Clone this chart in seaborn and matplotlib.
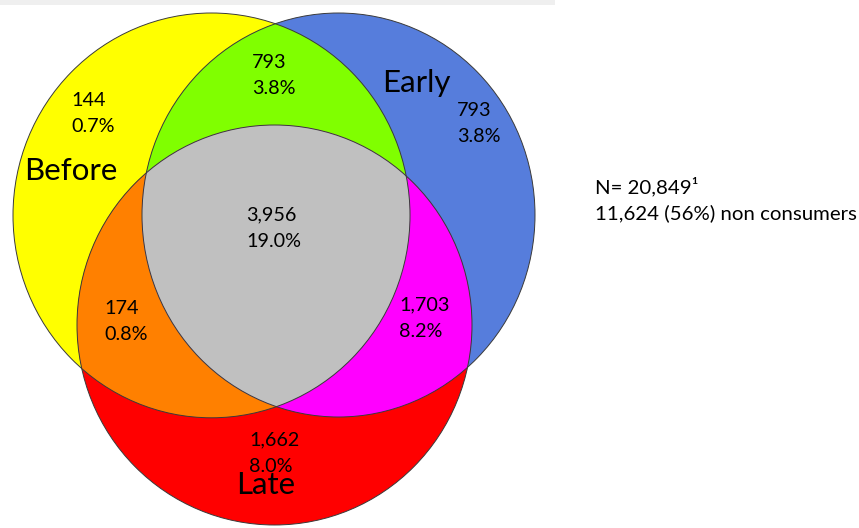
import numpy as np
import matplotlib
matplotlib.use("Agg")
import matplotlib.pyplot as plt
from matplotlib.patches import Ellipse, Polygon, Rectangle
import seaborn as sns

# ---- data ----
set_names = ["Before", "Early", "Late"]
region_keys = ["B", "E", "L", "BE", "EL", "BL", "BEL"]
region_counts = ["144", "793", "1,662", "793", "1,703", "174", "3,956"]
region_pcts = ["0.7%", "3.8%", "8.0%", "3.8%", "8.2%", "0.8%", "19.0%"]
note_lines = ["N= 20,849\u00b9", "11,624 (56%) non consumers"]

# ---- style ----
sns.set_theme(style="white")
plt.rcParams['font.family'] = ['Lato', 'DejaVu Sans']

W, H = 859, 528
fig = plt.figure(figsize=(W / 100, H / 100), dpi=100)
ax = fig.add_axes([0, 0, 1, 1])
ax.set_xlim(0, W)
ax.set_ylim(H, 0)
ax.set_axis_off()

# geometry (pixel space): center, x-radius, y-radius
shapes = {
    "B": ((211.5, 215.4), 198.5, 202.4),
    "E": ((338.5, 215.0), 196.5, 202.0),
    "L": ((274.5, 325.0), 197.5, 200.0),
}
set_colors = {"B": "#FFFF00", "E": "#567DDC", "L": "#FF0000"}
combo_colors = {"BE": "#80FF00", "BL": "#FF8000", "EL": "#FF00FF", "BEL": "#C0C0C0"}

ax.add_patch(Rectangle((0, 0), 555, 4.5, facecolor="#EFEFEF", edgecolor="none"))

def inside(pts, key):
    (cx, cy), rx, ry = shapes[key]
    return ((pts[:, 0] - cx) / rx) ** 2 + ((pts[:, 1] - cy) / ry) ** 2 <= 1 + 1e-9

def shape_pts(key, n=4000):
    (cx, cy), rx, ry = shapes[key]
    t = np.linspace(0, 2 * np.pi, n, endpoint=False)
    return np.column_stack([cx + rx * np.cos(t), cy + ry * np.sin(t)])

def intersection_poly(keys):
    pts = []
    for k in keys:
        p = shape_pts(k)
        m = np.ones(len(p), bool)
        for o in keys:
            if o != k:
                m &= inside(p, o)
        pts.append(p[m])
    pts = np.vstack(pts)
    c = pts.mean(axis=0)
    ang = np.arctan2(pts[:, 1] - c[1], pts[:, 0] - c[0])
    return pts[np.argsort(ang)]

for k in ["B", "E", "L"]:
    (cx, cy), rx, ry = shapes[k]
    ax.add_patch(Ellipse((cx, cy), 2 * rx, 2 * ry, facecolor=set_colors[k], edgecolor="none"))

for combo in ["BE", "BL", "EL", "BEL"]:
    poly = intersection_poly(list(combo))
    ax.add_patch(Polygon(poly, closed=True, facecolor=combo_colors[combo], edgecolor="none"))

for k in ["B", "E", "L"]:
    (cx, cy), rx, ry = shapes[k]
    ax.add_patch(Ellipse((cx, cy), 2 * rx, 2 * ry, facecolor="none",
                         edgecolor="#3a3a3a", linewidth=0.7))

# region label positions (left x, first line y)
label_pos = {
    "B": (71, 100), "E": (457, 110), "L": (249, 440), "BE": (252, 62),
    "EL": (399, 305), "BL": (104, 308), "BEL": (246, 215),
}
num_fs = 14.2
for key, cnt, pct in zip(region_keys, region_counts, region_pcts):
    x, y = label_pos[key]
    ax.text(x, y, cnt, fontsize=num_fs, ha="left", va="center", color="black")
    ax.text(x, y + 26.5, pct, fontsize=num_fs, ha="left", va="center", color="black")

name_pos = {"Before": (24, 171), "Early": (382, 83), "Late": (236, 485)}
for nm in set_names:
    x, y = name_pos[nm]
    ax.text(x, y, nm, fontsize=22.5, ha="left", va="center", color="black")

ax.text(595, 187, note_lines[0], fontsize=14.7, ha="left", va="center", color="black")
ax.text(595, 213, note_lines[1], fontsize=14.7, ha="left", va="center", color="black")

fig.savefig("out.png", dpi=100)
